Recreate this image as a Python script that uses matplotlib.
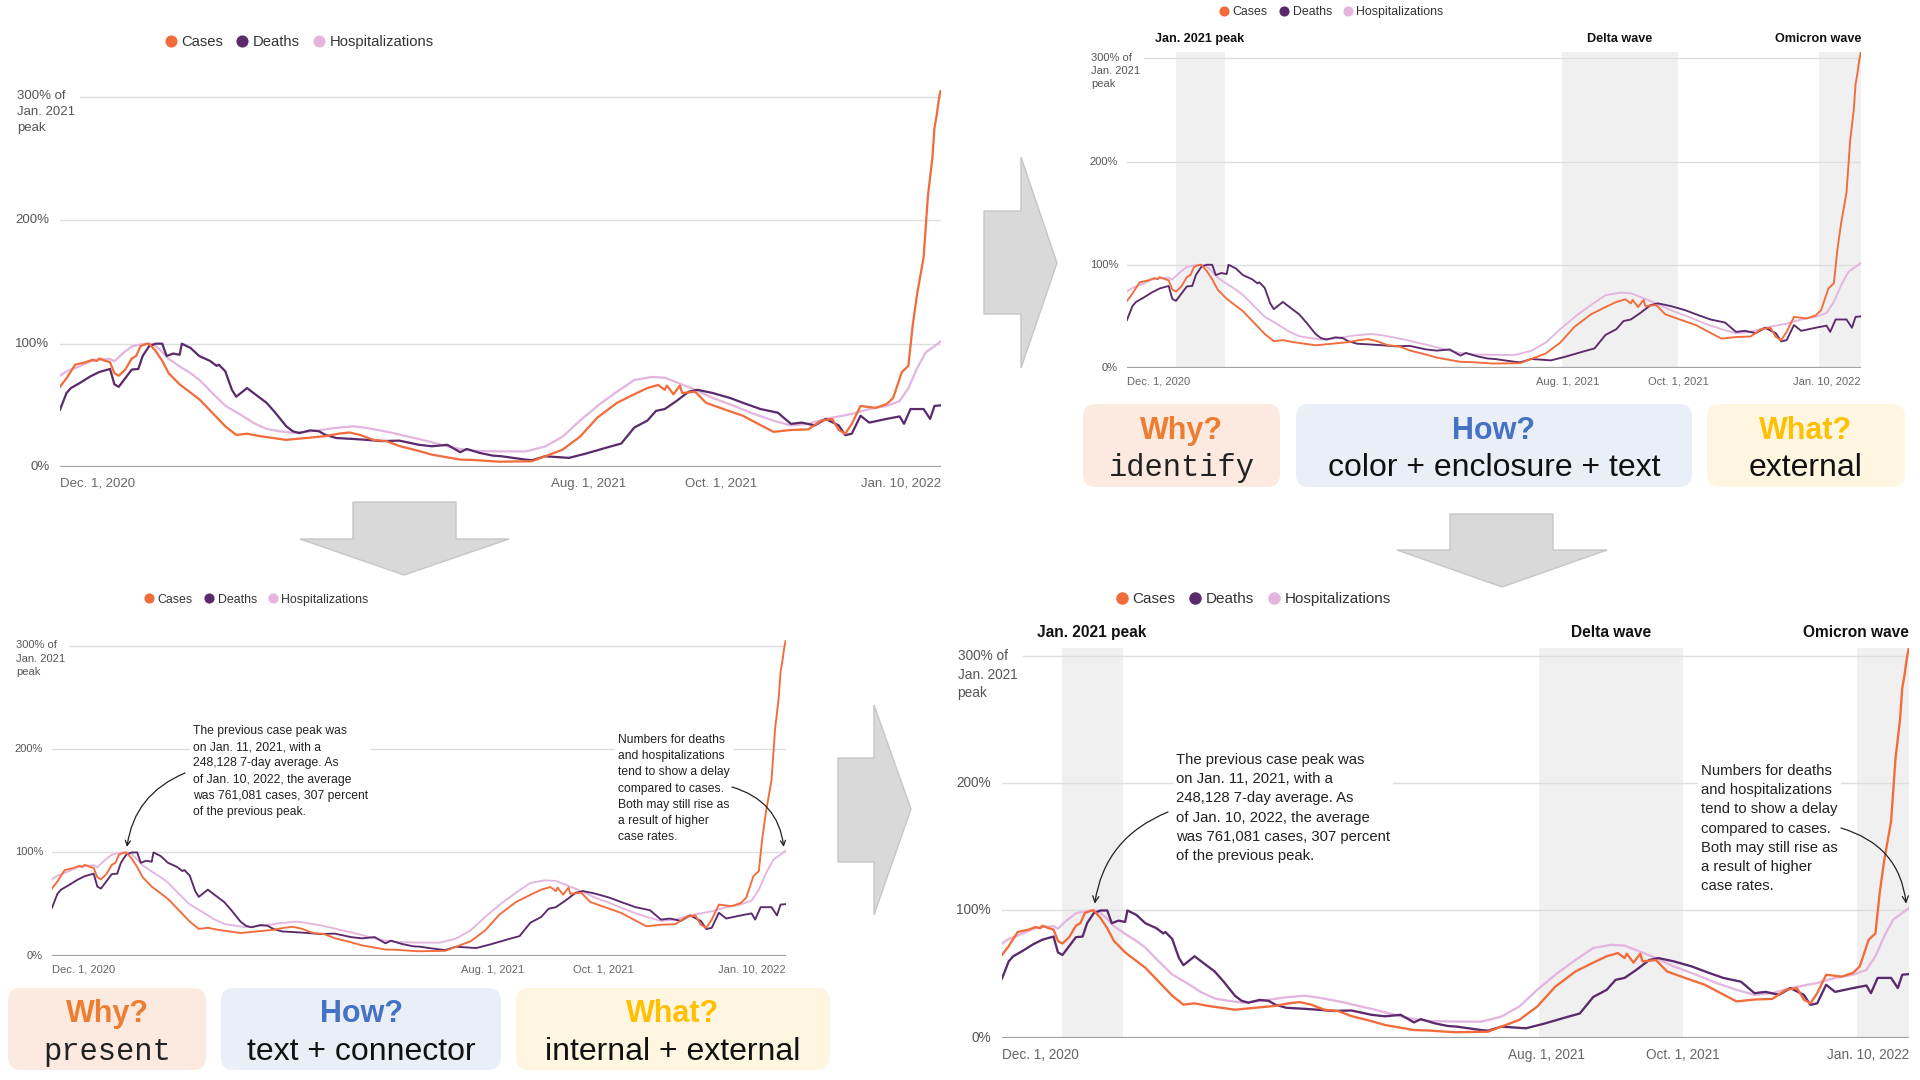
import numpy as np
import matplotlib
matplotlib.use('Agg')
import matplotlib.pyplot as plt
from matplotlib.patches import FancyBboxPatch, Polygon
from matplotlib.lines import Line2D

W, H = 1920, 1080
START = '2020-12-01'
END = '2022-01-10'

# ---------------- data (percent of Jan. 2021 peak, day offsets from Dec. 1, 2020) ----------------
cases_day = [0, 3, 7, 12, 15, 17, 18, 21, 23, 25, 27, 30, 33, 35, 37, 40, 41, 44, 47, 50, 55, 58,
             64, 70, 76, 81, 86, 92, 98, 104, 110, 116, 122, 128, 133, 138, 144, 150, 156, 165,
             171, 184, 190, 202, 210, 217, 223, 231, 239, 247, 256, 264, 270, 275, 278, 279, 282,
             285, 286, 292, 297, 305, 314, 322, 328, 336, 344, 350, 355, 358, 361, 364, 368, 375,
             380, 383, 387, 390, 392, 394, 396, 397, 399, 401, 402, 403, 404, 405]
cases_pct = [65, 72, 83, 85, 87, 86, 88, 86, 85, 76, 74, 79, 88, 90, 98, 100, 100, 94, 86, 76, 67, 63,
             55, 44, 33, 26, 27, 25, 23.5, 22, 23, 24, 25, 27, 28, 26, 22, 21, 17, 13,
             10, 6, 5.7, 4.3, 4.5, 4.7, 8.7, 14, 24.5, 40, 52, 59, 64, 66.5, 62.6, 66, 59,
             66, 60, 61, 52, 47, 41.5, 34, 28.5, 30, 30.5, 37.6, 39, 30, 27, 35, 49.5, 48,
             51, 56, 77, 82, 115, 140, 160, 170, 220, 250, 275, 285, 298, 307]

deaths_day = [0, 3, 5, 9, 14, 18, 23, 25, 27, 30, 33, 36, 38, 41, 44, 47, 49, 52, 55, 56, 60, 64, 69,
              72, 73, 76, 79, 81, 86, 90, 95, 99, 104, 107, 110, 115, 119, 122, 127, 135, 141, 148,
              156, 165, 171, 178, 184, 187, 193, 199, 203, 214, 217, 223, 234, 242, 253, 258, 264,
              270, 274, 278, 283, 289, 293, 300, 308, 314, 322, 330, 336, 341, 347, 352, 358, 361,
              364, 368, 372, 380, 386, 388, 391, 397, 400, 402, 405]
deaths_pct = [46.5, 60, 64, 68, 73.5, 77, 79.5, 67, 65, 72, 79, 79.5, 90, 98, 100, 100, 90, 92, 91, 100,
              96.5, 90, 86, 82, 83, 77.6, 62.7, 57, 64, 58.6, 52, 44, 33, 29, 27.5, 29.7, 29, 26, 23.5,
              22.7, 22, 21, 21.4, 18, 16.8, 18, 12, 14.6, 11.4, 9.2, 8.7, 6, 5.5, 8.7, 7.4, 11, 16.6,
              19, 32, 37.6, 45.5, 47, 53, 61, 62.6, 60, 56, 52, 47, 44, 35, 36, 33.7, 39, 33.7, 25.8,
              27, 41.6, 36, 39, 41, 35, 47, 47, 39, 49.5, 50]

hosp_day = [0, 3, 9, 14, 18, 23, 25, 29, 33, 38, 43, 46, 50, 55, 60, 64, 70, 76, 83, 89, 95, 101, 107,
            113, 119, 126, 135, 141, 147, 153, 159, 165, 171, 178, 184, 190, 202, 214, 223, 231, 239,
            248, 256, 264, 272, 278, 283, 292, 300, 308, 319, 328, 336, 344, 352, 364, 372, 380, 386,
            390, 394, 398, 402, 405]
hosp_pct = [74, 77.6, 81.6, 85.7, 87, 87.6, 85.7, 92.4, 97.8, 99.7, 99.7, 95, 87.6, 81.6, 76, 70.8, 60,
            49.7, 42.4, 35.7, 30.8, 29, 27.6, 28.4, 29.7, 31.6, 33, 31.6, 29.7, 27.6, 25, 22.7, 20,
            16.8, 14.6, 13.2, 12.7, 12.6, 16.6, 24.5, 37.6, 50.8, 61, 70.5, 73, 72.4, 69, 62.6, 56,
            50.8, 43, 37.6, 33.7, 35, 39, 43, 47, 49.5, 53.4, 64, 80, 93, 98, 102]

series_names = ['Cases', 'Deaths', 'Hospitalizations']
series_colors = ['#f26b3a', '#5b2a6c', '#e3b5df']

tick_dates = ['2020-12-01', '2021-08-01', '2021-10-01', '2022-01-10']
tick_labels = ['Dec. 1, 2020', 'Aug. 1, 2021', 'Oct. 1, 2021', 'Jan. 10, 2022']
ytick_vals = [0, 100, 200]
ytick_labels = ['0%', '100%', '200%']
ytop_val = 300
ytop_label = '300% of\nJan. 2021\npeak'

shade_start = ['2020-12-28', '2021-07-29', '2021-12-18']
shade_end = ['2021-01-24', '2021-10-01', '2022-01-10']
shade_labels = ['Jan. 2021 peak', 'Delta wave', 'Omicron wave']

peak_date = '2021-01-11'
note_peak = ("The previous case peak was\non Jan. 11, 2021, with a\n248,128 7-day average. As\n"
             "of Jan. 10, 2022, the average\nwas 761,081 cases, 307 percent\nof the previous peak.")
note_delay = ("Numbers for deaths\nand hospitalizations\ntend to show a delay\ncompared to cases.\n"
              "Both may still rise as\na result of higher\ncase rates.")

box_titles = ['Why?', 'How?', 'What?']
box_title_colors = ['#ed7d31', '#4472c4', '#ffc000']
box_fills = ['#fce9df', '#e9eef7', '#fff6e2']
boxes_top_right = ['identify', 'color + enclosure + text', 'external']
boxes_bottom_left = ['present', 'text + connector', 'internal + external']

# ---------------- fonts ----------------
CHART_FONT = ['Liberation Sans Narrow', 'Liberation Sans', 'DejaVu Sans']
plt.rcParams['font.family'] = CHART_FONT

YMAX = 306


def to_dates(days):
    return np.datetime64(START) + np.array(days, dtype='timedelta64[D]')


fig = plt.figure(figsize=(W / 100, H / 100), dpi=100)
fig.patch.set_facecolor('white')

# overlay in pixel coordinates for decorations
ov = fig.add_axes([0, 0, 1, 1], zorder=0)
ov.set_xlim(0, W)
ov.set_ylim(H, 0)
ov.axis('off')

# big grey flow arrows
arrow_shapes = [
    [(984, 211), (1021, 211), (1021, 157), (1057, 263), (1021, 368), (1021, 314), (984, 314)],
    [(353, 502), (456, 502), (456, 539), (509, 539), (404, 575), (300, 539), (353, 539)],
    [(838, 758), (874, 758), (874, 705), (911, 809), (874, 915), (874, 862), (838, 862)],
    [(1450, 514), (1553, 514), (1553, 550), (1607, 550), (1502, 587), (1397, 550), (1450, 550)],
]
for pts in arrow_shapes:
    ov.add_patch(Polygon(pts, closed=True, facecolor='#d9d9d9', edgecolor='#c6c6c6', lw=1))


def draw_boxes(x_ranges, y0, y1, bodies):
    for i, ((a, b), body) in enumerate(zip(x_ranges, bodies)):
        ov.add_patch(FancyBboxPatch((a, y0), b - a, y1 - y0,
                                    boxstyle='round,pad=0,rounding_size=13',
                                    facecolor=box_fills[i], edgecolor='none'))
        cx = (a + b) / 2
        ov.text(cx, y0 + (y1 - y0) * 0.32, box_titles[i], ha='center', va='center',
                fontsize=22, fontweight='bold', color=box_title_colors[i],
                family=['Liberation Sans', 'DejaVu Sans'])
        if i == 0:
            ov.text(cx, y0 + (y1 - y0) * 0.775, body, ha='center', va='center', fontsize=22,
                    color='#222222', family=['Liberation Mono', 'DejaVu Sans Mono'])
        else:
            ov.text(cx, y0 + (y1 - y0) * 0.775, body, ha='center', va='center', fontsize=23,
                    color='#111111', family=['Liberation Sans', 'DejaVu Sans'])


draw_boxes([(1083, 1280), (1296, 1692), (1707, 1905)], 404, 487, boxes_top_right)
draw_boxes([(8, 206), (221, 501), (516, 830)], 988, 1070, boxes_bottom_left)


def make_axes(x0, x1, yz, y3):
    ppp = (yz - y3) / 300.0
    ytop = yz - YMAX * ppp
    return fig.add_axes([x0 / W, 1 - yz / H, (x1 - x0) / W, (yz - ytop) / H], zorder=2)


def draw_panel(ax, s, shaded=False, notes=None, legend_dx=97):
    ax.set_xlim(np.datetime64(START), np.datetime64(END))
    ax.set_ylim(0, YMAX)
    ax.set_facecolor('none')
    for sp in ax.spines.values():
        sp.set_visible(False)
    ax.set_xticks([])
    ax.set_yticks([])
    xblend = ax.get_xaxis_transform()
    yblend = ax.get_yaxis_transform()

    if shaded:
        for a, b, lab in zip(shade_start, shade_end, shade_labels):
            ax.axvspan(np.datetime64(a), np.datetime64(b), color='#f0f0f0', lw=0, zorder=0)
            if b == END:
                xy, ha = (np.datetime64(b), 1), 'right'
            else:
                mid = np.datetime64(a) + (np.datetime64(b) - np.datetime64(a)) / 2
                xy, ha = (mid, 1), 'center'
            ax.annotate(lab, xy=xy, xycoords=xblend, xytext=(0, 13 * s),
                        textcoords='offset pixels', ha=ha, va='center', fontsize=9.1 * s,
                        fontweight='bold', color='#111111', annotation_clip=False)

    for v in ytick_vals[1:]:
        ax.axhline(v, color='#dedede', lw=1, zorder=1)
    ax.axhline(ytop_val, xmin=0.023, color='#dedede', lw=1, zorder=1)
    ax.axhline(0, color='#a3a3a3', lw=1.6, zorder=1)

    for d, v, c, z in [(hosp_day, hosp_pct, series_colors[2], 3),
                       (deaths_day, deaths_pct, series_colors[1], 4),
                       (cases_day, cases_pct, series_colors[0], 5)]:
        ax.plot(to_dates(d), v, color=c, lw=1.35 * s, zorder=z, solid_joinstyle='round')

    fs = 8.0 * s
    for v, lab in zip(ytick_vals, ytick_labels):
        ax.annotate(lab, xy=(0, v), xycoords=yblend, xytext=(-9 * s, 0), textcoords='offset pixels',
                    ha='right', va='center', fontsize=fs, color='#555555', annotation_clip=False)
    ax.annotate(ytop_label, xy=(0, ytop_val), xycoords=yblend,
                xytext=(-36 * s, 0.5 * fs * 100 / 72), textcoords='offset pixels',
                ha='left', va='top', fontsize=fs, color='#555555', linespacing=1.42,
                annotation_clip=False)

    for dte, lab in zip(tick_dates, tick_labels):
        ha = 'left' if dte == START else ('right' if dte == END else 'center')
        ax.annotate(lab, xy=(np.datetime64(dte), 0), xycoords='data', xytext=(0, -14 * s),
                    textcoords='offset pixels', ha=ha, va='center', fontsize=fs, color='#666666',
                    annotation_clip=False)

    # legend
    handles = [Line2D([], [], marker='o', ls='none', color=c, markersize=7.3 * s, markeredgewidth=0)
               for c in series_colors]
    lfs = 8.9 * s
    bbox = ax.get_position()
    lx = bbox.x0 + (legend_dx * s - 0.35 * lfs * 100 / 72) / W
    ly = bbox.y1 + 40 * s / H
    leg = ax.legend(handles, series_names, loc='center left', bbox_to_anchor=(lx, ly),
                    bbox_transform=fig.transFigure, ncol=3, frameon=False, fontsize=lfs,
                    handlelength=0.7, handletextpad=0.35, columnspacing=0.95, borderpad=0,
                    borderaxespad=0)
    for t in leg.get_texts():
        t.set_color('#333333')

    if notes:
        for txt, (tx, ty), target, (sx, sy), rad in notes:
            ax.text(tx / W, 1 - ty / H, txt, transform=fig.transFigure, ha='left', va='top',
                    fontsize=8.7 * s, color='#222222', linespacing=1.47, zorder=6,
                    bbox=dict(facecolor='white', edgecolor='none', pad=2))
            ax.annotate('', xy=target, xycoords='data', xytext=(sx / W, 1 - sy / H),
                        textcoords='figure fraction',
                        arrowprops=dict(arrowstyle='->', connectionstyle='arc3,rad=%s' % rad,
                                        color='#222222', lw=0.9, shrinkA=0, shrinkB=4 * s,
                                        mutation_scale=9 * s),
                        zorder=7, annotation_clip=False)


peak_target = (np.datetime64(peak_date), 100)
last_target = (np.datetime64(END) - np.timedelta64(1, 'D'), 100)

# top-left: plain chart
ax_tl = make_axes(60, 941, 467, 97)
draw_panel(ax_tl, 1.194, legend_dx=93)

# top-right: enclosures + labels
ax_tr = make_axes(1127, 1861, 368, 58.3)
draw_panel(ax_tr, 1.0, shaded=True)

# bottom-left: text + connector
ax_bl = make_axes(52, 786, 955.7, 646)
draw_panel(ax_bl, 1.0, notes=[
    (note_peak, (193, 725), peak_target, (185, 773), 0.3),
    (note_delay, (618, 734), last_target, (732, 787), -0.35),
])

# bottom-right: everything
ax_br = make_axes(1002, 1909, 1037.7, 656)
draw_panel(ax_br, 1.232, shaded=True, notes=[
    (note_peak, (1176, 753), peak_target, (1168, 812), 0.3),
    (note_delay, (1701, 764), last_target, (1841, 828), -0.35),
])

fig.savefig('out.png', dpi=100, facecolor='white')
